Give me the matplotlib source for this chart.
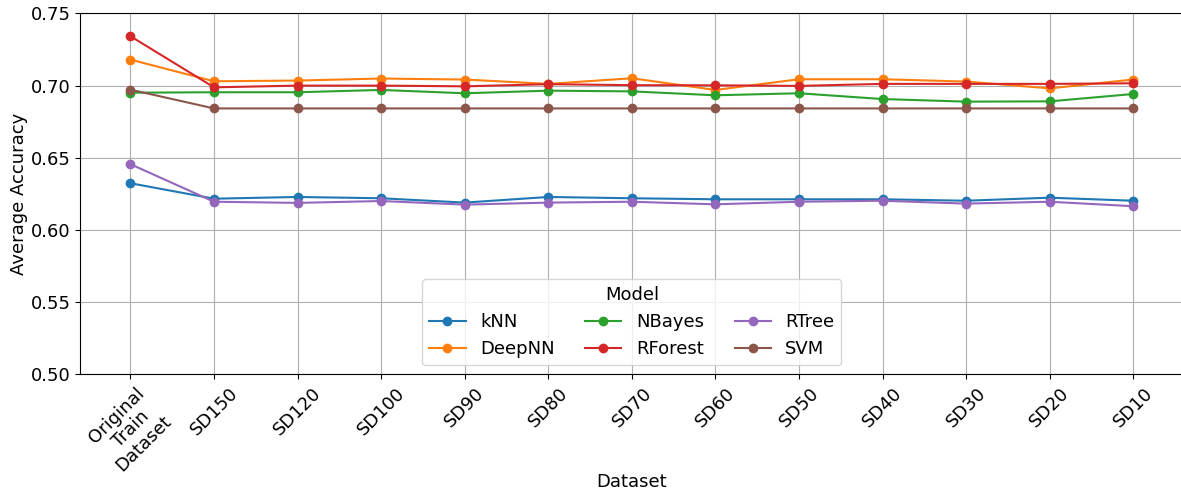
import matplotlib.pyplot as plt
import numpy as np

datasets = ["Original\nTrain\nDataset", "SD150", "SD120", "SD100", "SD90", "SD80",
            "SD70", "SD60", "SD50", "SD40", "SD30", "SD20", "SD10"]

knn = [0.6324, 0.6217, 0.6229, 0.6220, 0.6190, 0.6229, 0.6220,
       0.6213, 0.6213, 0.6213, 0.6203, 0.6224, 0.6203]
deepnn = [0.7180, 0.7030, 0.7035, 0.7049, 0.7042, 0.7012, 0.7051,
          0.6970, 0.7044, 0.7044, 0.7028, 0.6981, 0.7042]
nbayes = [0.6951, 0.6954, 0.6954, 0.6970, 0.6947, 0.6965, 0.6960,
          0.6933, 0.6947, 0.6907, 0.6889, 0.6891, 0.6942]
rforest = [0.7342, 0.6988, 0.7000, 0.7000, 0.6995, 0.7010, 0.7003,
           0.7002, 0.6998, 0.7012, 0.7012, 0.7012, 0.7016]
rtree = [0.6456, 0.6196, 0.6188, 0.6201, 0.6176, 0.6190, 0.6196,
         0.6178, 0.6196, 0.6203, 0.6183, 0.6196, 0.6165]
svm = [0.6972, 0.6842, 0.6842, 0.6842, 0.6842, 0.6842, 0.6842,
       0.6842, 0.6842, 0.6842, 0.6842, 0.6842, 0.6842]

models = ["kNN", "DeepNN", "NBayes", "RForest", "RTree", "SVM"]
scores = [knn, deepnn, nbayes, rforest, rtree, svm]

fig, ax = plt.subplots(figsize=(11.81, 4.96), dpi=100)
x = np.arange(len(datasets))
for name, vals in zip(models, scores):
    ax.plot(x, vals, marker="o", markersize=6, linewidth=1.5, label=name)

ax.set_ylim(0.5, 0.75)
ax.set_xticks(x)
ax.set_xticklabels(datasets, rotation=45, fontsize=13, linespacing=1.1)
ax.tick_params(axis="y", labelsize=13)
ax.set_xlabel("Dataset", fontsize=13, labelpad=-1)
ax.set_ylabel("Average Accuracy", fontsize=13, labelpad=2)
ax.grid(True)
ax.legend(title="Model", ncol=3, loc="lower center", fontsize=13, title_fontsize=13,
          columnspacing=1.7)

fig.subplots_adjust(left=0.068, right=1.002, top=0.973, bottom=0.245)
fig.savefig("out.png")
